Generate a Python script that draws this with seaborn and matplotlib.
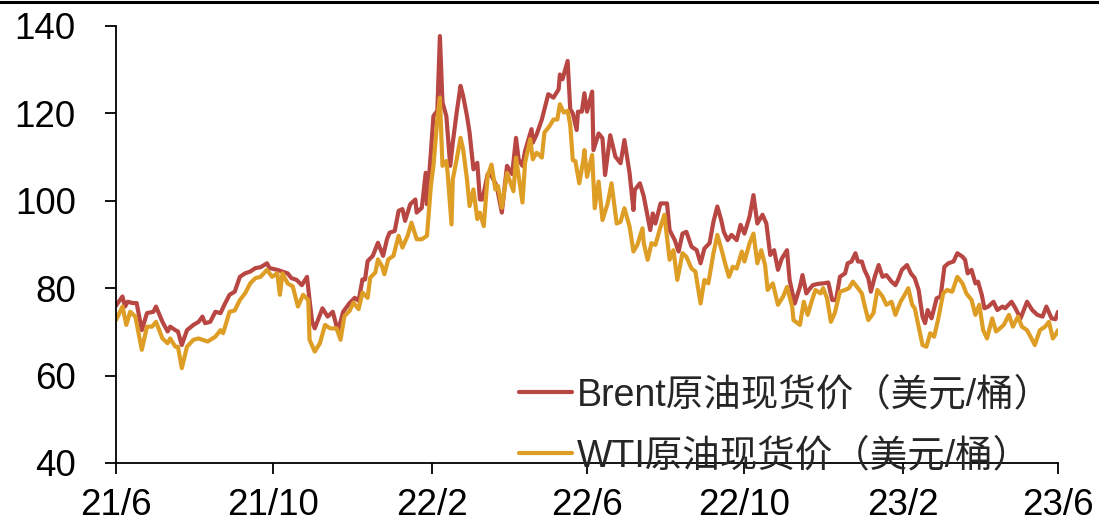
import numpy as np
import pandas as pd
import matplotlib
matplotlib.use("Agg")
import matplotlib.pyplot as plt
import matplotlib.dates as mdates
from matplotlib.lines import Line2D
import seaborn as sns

# ---------------- data ----------------
start_date = "2021-06-01"
end_date = "2023-06-01"

brent_days = [0, 5, 7, 9, 13, 16, 20, 24, 29, 31, 36, 40, 42, 46, 48, 51, 55, 60, 64, 67,
              69, 73, 77, 81, 84, 88, 92, 96, 100, 104, 108, 112, 117, 119, 125, 129, 133, 136, 140, 144,
              148, 150, 152, 154, 157, 160, 164, 168, 172, 176, 181, 185, 188, 191, 193, 195, 199, 203, 207, 210,
              212, 216, 219, 222, 224, 228, 232, 233, 237, 240, 241, 244, 246, 249, 251, 253, 256, 259, 261, 264,
              267, 269, 272, 274, 277, 280, 282, 284, 288, 291, 295, 299, 303, 307, 310, 312, 315, 317, 322, 323,
              326, 330, 332, 335, 339, 343, 344, 346, 350, 352, 354, 357, 358, 361, 363, 365, 369, 370, 374, 377,
              379, 383, 387, 391, 394, 398, 401, 402, 406, 409, 414, 416, 418, 422, 427, 429, 433, 436, 439, 442,
              446, 450, 453, 456, 460, 463, 466, 469, 471, 474, 477, 481, 484, 487, 491, 494, 497, 501, 504, 507,
              510, 513, 516, 520, 522, 526, 530, 532, 535, 538, 540, 544, 548, 552, 555, 558, 561, 565, 567, 570,
              573, 575, 578, 580, 583, 585, 588, 591, 594, 597, 601, 604, 606, 609, 613, 616, 619, 622, 625, 627,
              629, 632, 636, 639, 642, 645, 649, 652, 656, 658, 660, 663, 666, 668, 671, 673, 676, 680, 683, 687,
              689, 694, 697, 701, 706, 710, 714, 718, 721, 725, 728, 730]
brent_price = [76.0, 78.1, 75.8, 76.9, 76.6, 76.6, 70.4, 74.3, 74.6, 75.8, 72.3, 70.1, 71.2, 70.4, 70.1, 67.0, 70.4, 71.6, 72.3, 73.5,
               72.0, 72.3, 74.6, 74.3, 76.2, 78.5, 79.2, 82.6, 83.4, 83.8, 84.6, 84.8, 85.7, 84.6, 84.2, 83.8, 83.4, 82.3, 81.9, 80.7,
               82.6, 77.3, 72.3, 70.8, 73.1, 75.4, 73.5, 74.6, 70.1, 74.6, 76.6, 77.8, 77.1, 82.0, 82.0, 86.2, 87.4, 90.4, 87.4, 91.2,
               92.7, 93.1, 97.7, 98.1, 95.4, 99.2, 100.3, 97.3, 98.4, 106.4, 99.2, 111.0, 119.4, 120.6, 137.7, 122.5, 119.4, 108.0, 113.3, 120.2,
               126.3, 124.0, 119.4, 115.6, 107.2, 108.7, 100.3, 100.3, 106.1, 105.7, 103.4, 97.3, 108.0, 106.1, 114.4, 109.5, 108.0, 111.4, 116.4, 113.3,
               115.2, 118.6, 120.9, 124.4, 123.6, 125.5, 128.9, 127.8, 132.0, 121.0, 120.0, 116.2, 120.4, 120.4, 124.6, 120.4, 125.0, 111.6, 115.4, 114.3,
               105.9, 115.0, 110.1, 108.6, 113.9, 106.3, 97.9, 102.5, 104.0, 101.0, 93.3, 97.1, 94.8, 99.4, 99.4, 93.3, 91.0, 88.4, 92.5, 92.9,
               89.5, 88.7, 85.7, 89.1, 90.3, 95.2, 98.7, 95.6, 92.9, 91.0, 92.2, 91.0, 94.5, 92.5, 96.4, 101.3, 94.8, 96.8, 94.8, 87.6,
               88.7, 84.2, 86.8, 88.7, 81.9, 76.5, 80.3, 83.0, 78.8, 80.0, 80.7, 81.0, 81.1, 81.3, 77.3, 77.3, 82.6, 83.4, 85.7, 86.1,
               88.0, 86.1, 86.1, 84.2, 82.3, 79.2, 82.6, 85.3, 82.6, 83.0, 81.5, 80.7, 81.9, 84.2, 85.3, 83.4, 82.3, 79.6, 73.5, 72.0,
               75.0, 73.1, 77.7, 78.1, 84.9, 85.7, 86.1, 88.0, 87.2, 86.5, 83.4, 84.2, 81.1, 81.5, 78.4, 75.4, 75.8, 76.9, 75.0, 75.8,
               75.4, 76.9, 75.4, 73.1, 76.9, 75.0, 73.9, 73.5, 75.8, 73.1, 72.9, 74.6]

wti_days = [0, 5, 8, 11, 15, 20, 24, 28, 31, 36, 40, 42, 46, 48, 51, 55, 60, 64, 67, 71,
            77, 81, 83, 88, 92, 96, 100, 104, 108, 112, 117, 121, 125, 127, 129, 133, 137, 141, 145, 149,
            150, 154, 158, 162, 166, 171, 174, 177, 181, 184, 188, 191, 195, 197, 201, 203, 206, 208, 211, 215,
            219, 222, 226, 229, 233, 237, 241, 244, 246, 249, 251, 253, 256, 257, 260, 261, 264, 267, 269, 272,
            274, 277, 280, 282, 285, 288, 291, 294, 296, 299, 303, 308, 310, 315, 317, 321, 323, 326, 330, 332,
            336, 339, 342, 344, 347, 350, 352, 354, 356, 359, 362, 363, 365, 369, 371, 374, 377, 381, 384, 388,
            391, 394, 398, 401, 404, 408, 409, 412, 415, 418, 422, 425, 429, 432, 435, 439, 442, 446, 449, 453,
            456, 459, 463, 466, 470, 472, 475, 478, 481, 485, 487, 491, 494, 497, 500, 503, 505, 509, 513, 517,
            520, 524, 525, 530, 533, 536, 539, 542, 546, 548, 551, 554, 557, 561, 565, 568, 571, 574, 578, 580,
            583, 587, 590, 594, 597, 601, 604, 608, 611, 614, 617, 619, 622, 625, 628, 631, 634, 637, 641, 644,
            648, 652, 656, 659, 663, 666, 669, 672, 675, 679, 682, 685, 688, 692, 695, 699, 702, 706, 710, 712,
            716, 720, 723, 726, 728, 730]
wti_price = [72.7, 75.8, 71.6, 74.6, 73.5, 65.9, 71.2, 71.2, 72.3, 68.5, 67.4, 68.5, 66.6, 66.6, 61.7, 66.6, 68.2, 68.5, 68.2, 67.8,
             68.9, 70.4, 69.7, 74.6, 74.9, 77.3, 78.8, 81.1, 82.3, 82.6, 84.2, 82.6, 83.4, 78.5, 83.4, 81.1, 80.4, 75.8, 78.5, 77.3,
             68.2, 65.5, 67.4, 71.6, 70.8, 70.8, 68.2, 73.6, 74.8, 76.7, 75.2, 79.0, 77.8, 82.4, 83.6, 86.6, 85.1, 83.2, 86.6, 87.4,
             92.0, 89.3, 92.0, 95.0, 91.2, 91.2, 92.0, 103.4, 108.0, 118.6, 123.6, 108.0, 109.1, 106.4, 94.6, 104.9, 109.5, 114.4, 111.8, 104.9,
             98.8, 102.6, 95.8, 97.3, 94.2, 105.7, 108.3, 102.6, 103.4, 98.4, 106.4, 102.2, 109.9, 99.6, 108.7, 114.1, 109.5, 111.0, 109.9, 115.6,
             117.1, 118.6, 118.6, 122.1, 120.2, 120.6, 117.4, 109.3, 109.1, 104.0, 109.0, 111.6, 105.5, 110.5, 98.3, 104.4, 95.6, 99.4, 104.0, 94.8,
             95.2, 98.3, 94.1, 88.4, 89.9, 93.7, 90.3, 86.5, 90.3, 89.9, 94.1, 96.8, 86.5, 88.7, 81.9, 88.0, 87.2, 84.5, 83.8, 76.5,
             81.9, 81.1, 88.0, 92.2, 88.0, 85.7, 82.6, 84.9, 84.5, 88.4, 86.1, 90.3, 92.5, 85.7, 88.7, 85.3, 79.6, 81.1, 76.2, 78.1,
             80.3, 75.8, 72.7, 71.6, 76.9, 73.9, 76.9, 79.6, 78.8, 80.0, 77.7, 72.3, 74.3, 79.2, 79.6, 80.0, 81.5, 80.4, 78.8, 76.2,
             72.7, 74.3, 79.6, 78.1, 76.2, 76.9, 73.9, 76.9, 78.4, 80.0, 76.2, 75.4, 71.2, 67.0, 66.6, 69.7, 68.9, 72.7, 78.8, 79.6,
             79.2, 82.6, 81.1, 78.8, 77.3, 73.9, 76.2, 70.4, 68.5, 73.1, 70.1, 70.8, 71.6, 73.9, 71.2, 73.5, 71.2, 70.4, 68.2, 67.0,
             70.4, 71.2, 72.3, 68.5, 69.3, 70.4]

series_names = ["Brent原油现货价（美元/桶）", "WTI原油现货价（美元/桶）"]
series_colors = ["#B84744", "#DE9E25"]
y_ticks = [40, 60, 80, 100, 120, 140]

# ---------------- build table ----------------
t0 = pd.Timestamp(start_date)
df = pd.concat([
    pd.DataFrame({"date": t0 + pd.to_timedelta(brent_days, unit="D"),
                  "price": brent_price, "series": series_names[0]}),
    pd.DataFrame({"date": t0 + pd.to_timedelta(wti_days, unit="D"),
                  "price": wti_price, "series": series_names[1]}),
], ignore_index=True)

# ---------------- style ----------------
sns.set_theme(style="ticks")
plt.rcParams["font.family"] = ["Liberation Sans", "Noto Sans CJK SC", "DejaVu Sans"]

fig = plt.figure(figsize=(10.99, 5.26), dpi=100)
ax = fig.add_axes([116 / 1099, 1 - 463 / 526, (1058 - 116) / 1099, (463 - 26) / 526])

sns.lineplot(data=df, x="date", y="price", hue="series", hue_order=series_names,
             palette=series_colors, linewidth=3.0, ax=ax, sort=True, estimator=None)

ax.set_xlim(pd.Timestamp(start_date), pd.Timestamp(end_date))
ax.set_ylim(y_ticks[0], y_ticks[-1])
ax.set_yticks(y_ticks)
ax.xaxis.set_major_locator(mdates.MonthLocator(bymonth=[2, 6, 10]))
ax.xaxis.set_major_formatter(
    matplotlib.ticker.FuncFormatter(lambda v, p: f"{mdates.num2date(v).year % 100}/{mdates.num2date(v).month}"))
ax.set_xlabel("")
ax.set_ylabel("")

for s in ["top", "right"]:
    ax.spines[s].set_visible(False)
for s in ["left", "bottom"]:
    ax.spines[s].set_color("black")
    ax.spines[s].set_linewidth(1.3)

ax.tick_params(axis="both", direction="out", length=8, width=1.3, colors="black", labelsize=26.5)
ax.tick_params(axis="y", pad=21)
ax.tick_params(axis="x", pad=10)

leg = ax.legend(loc="upper left", bbox_to_anchor=((519 - 116) / 942, 1 - (377 - 26) / 437),
                frameon=False, fontsize=27, handlelength=1.4, handletextpad=0.13,
                labelspacing=0.68, borderaxespad=0, borderpad=0)
for line in leg.get_lines():
    line.set_linewidth(3.0)

# top border line of the figure
fig.add_artist(Line2D([0, 1], [0.996, 0.996], transform=fig.transFigure, color="black", linewidth=2.2))

fig.savefig("out.png", dpi=100)
